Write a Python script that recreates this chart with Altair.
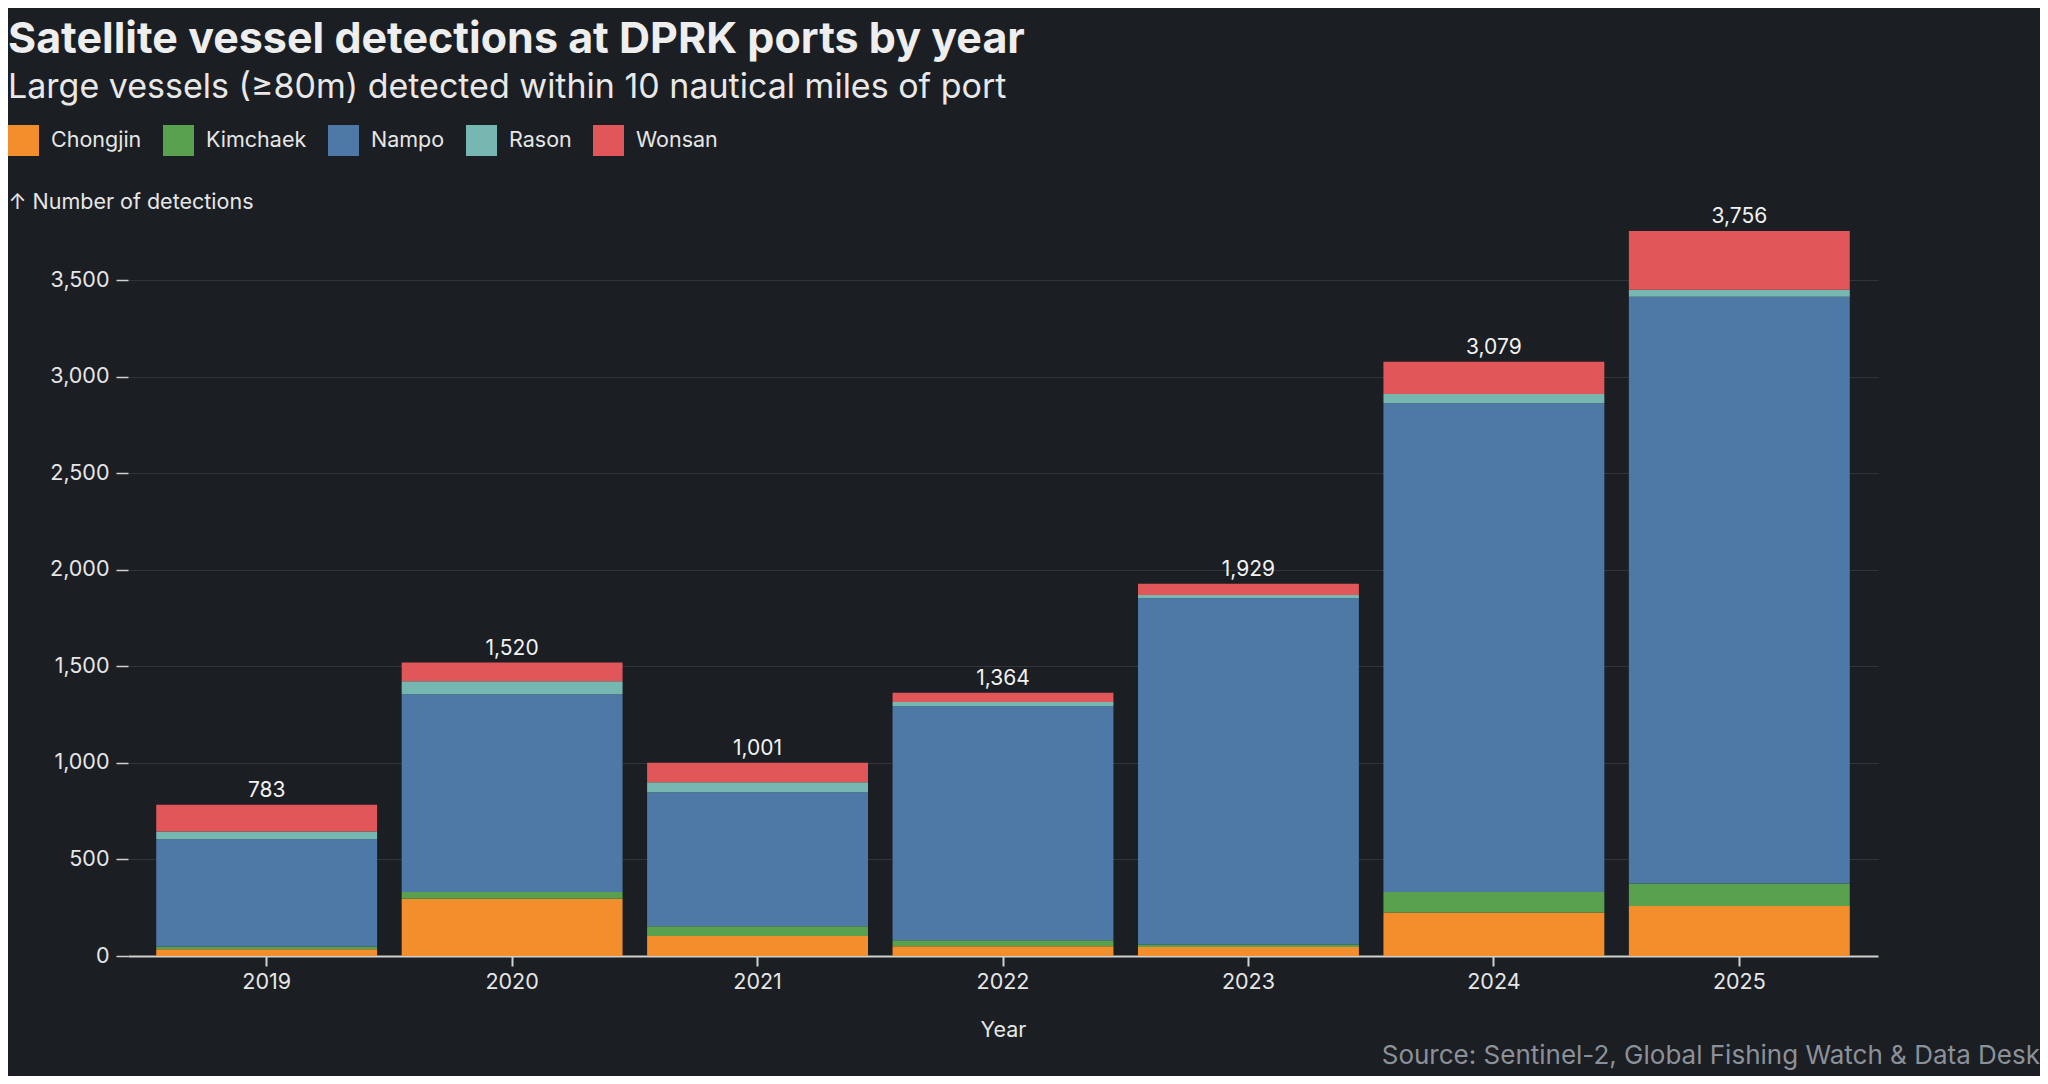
import altair as alt
import pandas as pd

years = ["2019", "2020", "2021", "2022", "2023", "2024", "2025"]
ports = ["Chongjin", "Kimchaek", "Nampo", "Rason", "Wonsan"]
chongjin = [35, 297, 104, 50, 47, 225, 259]
kimchaek = [14, 34, 50, 31, 12, 107, 116]
nampo = [556, 1025, 694, 1213, 1794, 2532, 3040]
rason = [40, 67, 52, 22, 17, 48, 36]
wonsan = [138, 97, 101, 48, 59, 167, 305]
colors = ["#f28e2c", "#59a14f", "#4e79a7", "#76b7b2", "#e15759"]
y_ticks = [0, 500, 1000, 1500, 2000, 2500, 3000, 3500]

series = [chongjin, kimchaek, nampo, rason, wonsan]
rows = []
for i, (port, vals) in enumerate(zip(ports, series)):
    for yr, v in zip(years, vals):
        rows.append({"Year": yr, "Port": port, "idx": i, "Detections": v})
df = pd.DataFrame(rows)
totals = pd.DataFrame({"Year": years, "Total": [sum(t) for t in zip(*series)]})
source = pd.DataFrame({"t": ["Source: Sentinel-2, Global Fishing Watch & Data Desk"]})

BG = "#1b1e23"
TXT = "#e6e6e6"
FONT = "Inter"
FS = 21.5
YMAX = max(totals["Total"])

xenc = alt.X(
    "Year:N",
    title="Year",
    sort=years,
    scale=alt.Scale(paddingInner=0.1, paddingOuter=0.115),
    axis=alt.Axis(
        labelAngle=0, labelFontSize=FS, labelColor=TXT, labelFont=FONT,
        labelPadding=5, tickSize=10, tickColor="#d0d0d0", domainColor="#d0d0d0",
        domainWidth=2, tickWidth=2, titleFontSize=FS, titleFont=FONT,
        titleColor=TXT, titleFontWeight="normal", titlePadding=27, grid=False,
    ),
)
yaxis = alt.Axis(
    values=y_ticks, format=",.0f", labelFontSize=FS, labelColor=TXT, labelFont=FONT,
    labelPadding=7, tickSize=12, tickColor="#d0d0d0", tickWidth=1.5, domain=False,
    grid=True, gridColor="#31343a", gridWidth=1,
    title="↑ Number of detections", titleAngle=0, titleAlign="left",
    titleBaseline="middle", titleX=-120, titleY=-29, titleFontSize=FS,
    titleFont=FONT, titleColor=TXT, titleFontWeight="normal",
)
yscale = alt.Scale(domain=[0, YMAX], nice=False)

bars = alt.Chart(df).mark_bar().encode(
    x=xenc,
    y=alt.Y("sum(Detections):Q", stack="zero", scale=yscale, axis=yaxis),
    color=alt.Color(
        "Port:N",
        scale=alt.Scale(domain=ports, range=colors),
        legend=alt.Legend(
            orient="none", legendX=-120, legendY=-106, direction="horizontal",
            title=None, symbolType="square", symbolSize=961, symbolStrokeWidth=0,
            symbolOpacity=1, labelFontSize=FS, labelColor=TXT, labelFont=FONT,
            labelOffset=12, columnPadding=21, columns=5,
        ),
    ),
    order=alt.Order("idx:Q", sort="ascending"),
)

labels = alt.Chart(totals).mark_text(
    baseline="bottom", dy=-4, fontSize=21, font=FONT, color="#f2f2f2"
).encode(
    x=alt.X("Year:N", sort=years),
    y=alt.Y("Total:Q", scale=yscale, title="↑ Number of detections"),
    text=alt.Text("Total:Q", format=","),
)

src = alt.Chart(source).mark_text(
    align="right", baseline="middle", fontSize=26, font=FONT, color="#8b9199"
).encode(x=alt.value(1912), y=alt.value(825), text="t:N")

chart = alt.layer(bars, labels, src).properties(
    width=1750,
    height=725,
    autosize=alt.AutoSizeParams(type="none"),
    padding={"left": 120, "top": 223, "right": 162, "bottom": 120},
    title=alt.TitleParams(
        text="Satellite vessel detections at DPRK ports by year",
        subtitle="Large vessels (≥80m) detected within 10 nautical miles of port",
        anchor="start", frame="bounds", fontSize=43, fontWeight=700,
        font=FONT, color="#eeeeee", subtitleFontSize=34, subtitleFont=FONT,
        subtitleColor="#e8e8e8", subtitleFontWeight="normal",
        subtitlePadding=9, offset=20,
    ),
).configure(background=BG).configure_view(stroke=None)

chart.save("out.html", embed_options={"renderer": "svg", "actions": False})
